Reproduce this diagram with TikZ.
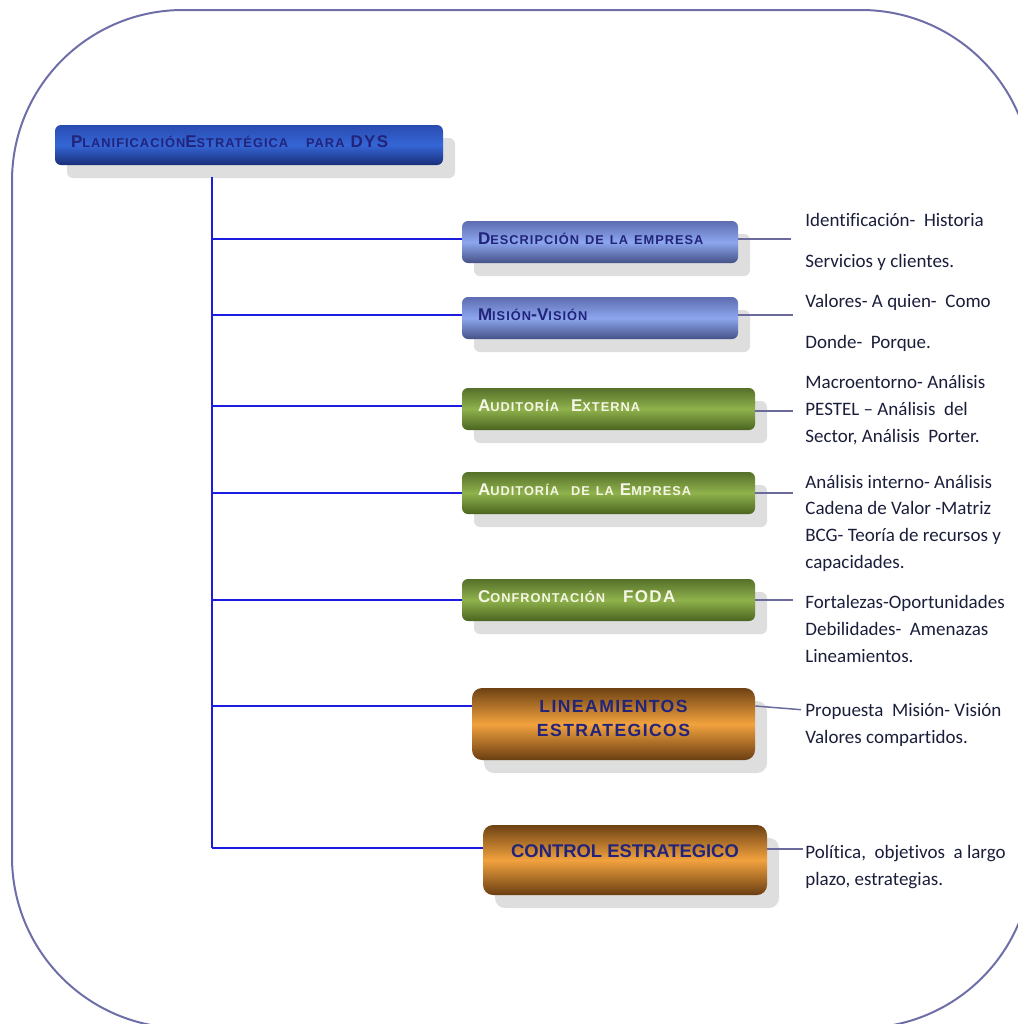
\documentclass[tikz,border=0pt]{standalone}
\usepackage{fontspec}
\setmainfont[Ligatures=NoCommon]{Carlito}
\newfontfamily\labelfont[LetterSpace=8]{Liberation Sans}
\newfontfamily\headfont{Liberation Sans}
\usetikzlibrary{shadows,calc}

\definecolor{frameline}{HTML}{6E6EA8}
\definecolor{spinecol}{HTML}{1C1CE0}
\definecolor{twigcol}{HTML}{6A6A9C}
\definecolor{ink}{HTML}{1A1E3A}
\definecolor{navy}{HTML}{22237A}
\definecolor{cream}{HTML}{F6F6E6}
\definecolor{rootA}{HTML}{2A4CB0}
\definecolor{rootB}{HTML}{3566D6}
\definecolor{rootC}{HTML}{1A2E78}
\definecolor{blueA}{HTML}{5E6CB0}
\definecolor{blueB}{HTML}{8CA6EE}
\definecolor{blueC}{HTML}{465288}
\definecolor{greenA}{HTML}{56702A}
\definecolor{greenB}{HTML}{8FB24C}
\definecolor{greenC}{HTML}{4A6420}
\definecolor{orangeA}{HTML}{6E4214}
\definecolor{orangeB}{HTML}{F2A23E}
\definecolor{orangeC}{HTML}{6A3E12}

% small-caps imitation: full-size capital and reduced capitals
\newcommand\Cap[1]{{\fontsize{8.5}{10}\selectfont #1}}
\newcommand\Low[1]{{\fontsize{6.4}{10}\selectfont #1}}

\tikzset{
  boxshadow/.style={drop shadow={shadow xshift=6pt, shadow yshift=-6.5pt, fill=black!13, opacity=1}},
  plainbox/.style={boxshadow, rounded corners=3pt, inner xsep=8pt, inner ysep=0pt,
    text depth=3pt, align=left, font=\labelfont\bfseries\fontsize{9}{10}\selectfont},
  rootbox/.style={plainbox, minimum height=20pt, top color=rootA, bottom color=rootC, middle color=rootB, text=navy},
  bluebox/.style={plainbox, minimum height=21pt, top color=blueA, bottom color=blueC, middle color=blueB, text=navy},
  greenbox/.style={plainbox, minimum height=21pt, top color=greenA, bottom color=greenC, middle color=greenB, text=cream},
  orangebox/.style={boxshadow, rounded corners=5pt, inner sep=0pt, align=center,
    top color=orangeA, bottom color=orangeC, middle color=orangeB, text=navy},
  spineline/.style={draw=spinecol, line width=1pt},
  twig/.style={draw=twigcol, line width=0.75pt},
  % notes are placed by the baseline of their last line
  note/.style={inner sep=0pt, anchor=base west, align=left, text=ink},
  widenote/.style={note, font=\fontsize{9.5}{20.3}\selectfont},
  tightnote/.style={note, font=\fontsize{9.5}{13.3}\selectfont},
}

\begin{document}
\begin{tikzpicture}[x=0.5pt, y=-0.5pt]
\useasboundingbox (0,0) rectangle (1018,1024);
\clip (0,0) rectangle (1018,1024);

% outer frame
\draw[frameline, line width=1pt, rounded corners=85.5pt] (12,10) rectangle (1032,1028);

% root
\node[rootbox, text width=178pt] (root) at (249,145)
  {\Cap{P}\Low{LANIFICACIÓN}\Cap{E}\Low{STRATÉGICA\ \ \ PARA} \Cap{DYS}};

% branch boxes
\node[bluebox, text width=122pt] (desc) at (600,242)
  {\Cap{D}\Low{ESCRIPCIÓN DE LA EMPRESA}};
\node[bluebox, text width=122pt] (mision) at (600,318)
  {\Cap{M}\Low{ISIÓN}-\Cap{V}\Low{ISIÓN}};
\node[greenbox, text width=130.5pt] (audext) at (608.5,409)
  {\Cap{A}\Low{UDITORÍA}\ \ \Cap{E}\Low{XTERNA}};
\node[greenbox, text width=130.5pt] (audemp) at (608.5,493)
  {\Cap{A}\Low{UDITORÍA\ \ DE LA} \Cap{E}\Low{MPRESA}};
\node[greenbox, text width=130.5pt] (foda) at (608.5,600)
  {\Cap{C}\Low{ONFRONTACIÓN}\quad\Cap{FODA}};
\node[orangebox, minimum width=141.5pt, minimum height=36pt,
      font=\labelfont\bfseries\fontsize{8.8}{12}\selectfont] (linea) at (613.5,724)
  {LINEAMIENTOS\\ESTRATEGICOS\rule[-6pt]{0pt}{0pt}};
\node[orangebox, minimum width=142pt, minimum height=35pt,
      font=\headfont\bfseries\fontsize{9.2}{11}\selectfont] (control) at (625,860)
  {CONTROL ESTRATEGICO\rule[-9pt]{0pt}{0pt}};

% notes
\node[widenote] (tdesc) at (805,267) {Identificación-\ \ Historia\\Servicios y clientes.};
\node[widenote] (tmision) at (805,348) {Valores- A quien-\ \ Como\\Donde-\ \ Porque.};
\node[tightnote] (taudext) at (805,442) {Macroentorno-\ Análisis\\PESTEL – Análisis\ \ del\\Sector, Análisis\ \ Porter.};
\node[tightnote] (taudemp) at (805,568) {Análisis\ interno-\ Análisis\\Cadena de Valor -Matriz\\BCG-\ Teoría de recursos y\\capacidades.};
\node[tightnote] (tfoda) at (805,662) {Fortalezas-Oportunidades\\Debilidades-\ \ Amenazas\\Lineamientos.};
\node[tightnote] (tlinea) at (805,743) {Propuesta\ \ Misión- Visión\\Valores compartidos.};
\node[tightnote] (tcontrol) at (805,885) {Política,\ \ objetivos\ \ a largo\\plazo, estrategias.};

% trunk and branches
\coordinate (sTop) at (212,177);
\coordinate (sBot) at (212,848);
\coordinate (inDesc) at ([yshift=1.5pt]desc.west);
\coordinate (inMision) at ([yshift=1.5pt]mision.west);
\coordinate (inAudext) at ([yshift=1.5pt]audext.west);
\coordinate (inLinea) at ([yshift=9pt]linea.west);
\draw[spineline] (sTop) -- (sBot);
\draw[spineline] (sTop |- inDesc) -- (inDesc);
\draw[spineline] (sTop |- inMision) -- (inMision);
\draw[spineline] (sTop |- inAudext) -- (inAudext);
\draw[spineline] (sTop |- audemp.west) -- (audemp.west);
\draw[spineline] (sTop |- foda.west) -- (foda.west);
\draw[spineline] (sTop |- inLinea) -- (inLinea);
\draw[spineline] (sBot) -- (sBot -| control.west);

% links to notes
\coordinate (outDesc) at ([yshift=1.5pt]desc.east);
\coordinate (outMision) at ([yshift=1.5pt]mision.east);
\coordinate (outAudext) at ([yshift=-1pt]audext.east);
\coordinate (outLinea) at ([yshift=9pt]linea.east);
\coordinate (outControl) at ([yshift=5.5pt]control.east);
\draw[twig, shorten >=7pt] (outDesc) -- (outDesc -| tdesc.west);
\draw[twig, shorten >=6pt] (outMision) -- (outMision -| tmision.west);
\draw[twig, shorten >=6pt] (outAudext) -- (outAudext -| taudext.west);
\draw[twig, shorten >=6pt] (audemp.east) -- (audemp.east -| taudemp.west);
\draw[twig, shorten >=6pt] (foda.east) -- (foda.east -| tfoda.west);
\draw[twig, shorten >=2pt] (outLinea) -- ([yshift=-2pt]outLinea -| tlinea.west);
\draw[twig, shorten >=1pt] (outControl) -- (outControl -| tcontrol.west);
\end{tikzpicture}
\end{document}
